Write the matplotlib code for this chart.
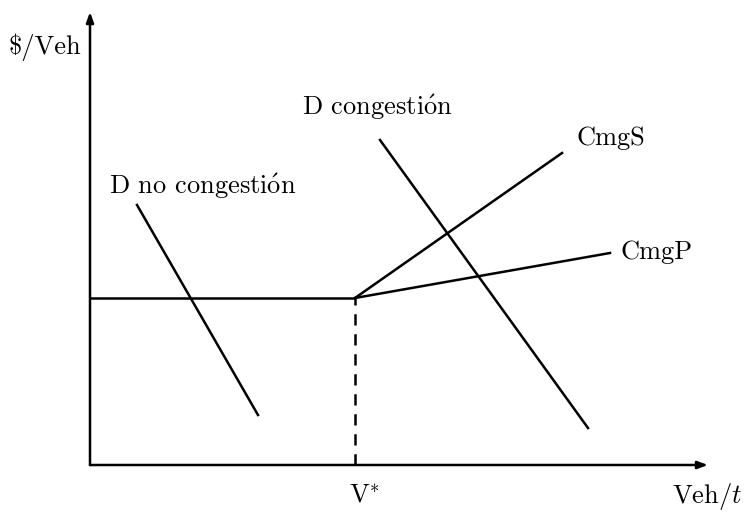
import matplotlib.pyplot as plt

plt.rcParams['mathtext.fontset'] = 'cm'
plt.rcParams['mathtext.rm'] = 'cmr10'
plt.rcParams['axes.unicode_minus'] = False
fam = ['cmr10', 'DejaVu Serif']

# coordenadas del diagrama (origen en la esquina de los ejes)
eje_x_max = 618
eje_y_max = 453
v_estrella = 265
precio_base = 167

# curvas de costo marginal (inicio en V*, fin)
cmgs = [(265, 167), (472, 312)]
cmgp = [(265, 167), (520, 212)]
# curvas de demanda
d_no_cong = [(47, 260), (168, 50)]
d_cong = [(290, 325), (498, 37)]

etiquetas = {
    r'\$/Veh': (-45, 418, 'center'),
    r'D congesti$\acute{\mathrm{o}}$n': (287, 358, 'center'),
    'CmgS': (521, 327, 'center'),
    'CmgP': (567, 213, 'center'),
    r'D no congesti$\acute{\mathrm{o}}$n': (113, 279, 'center'),
    'V$^{*}$': (275, -31, 'center'),
    'Veh/$t$': (652, -31, 'right'),
}

fig = plt.figure(figsize=(7.46, 5.13), dpi=100)
ax = fig.add_axes([0, 0, 1, 1])
ax.set_xlim(-90, 656)
ax.set_ylim(-48, 465)
ax.axis('off')

lw = 1.8
arrow = dict(arrowstyle='-|>,head_length=0.6,head_width=0.22', lw=lw, color='black',
             shrinkA=0, shrinkB=0)
ax.annotate('', xy=(eje_x_max, 0), xytext=(0, 0), arrowprops=arrow)
ax.annotate('', xy=(0, eje_y_max), xytext=(0, 0), arrowprops=arrow)

ax.plot([0, v_estrella], [precio_base, precio_base], color='black', lw=lw, solid_capstyle='butt')
ax.plot([v_estrella, v_estrella], [0, precio_base], color='black', lw=lw,
        linestyle=(0, (4.5, 3.5)))
for seg in (cmgs, cmgp, d_no_cong, d_cong):
    xs, ys = zip(*seg)
    ax.plot(xs, ys, color='black', lw=lw)

for txt, (x, y, ha) in etiquetas.items():
    ax.text(x, y, txt, fontsize=19, family=fam, ha=ha, va='center')

fig.savefig('out.png', dpi=100)
